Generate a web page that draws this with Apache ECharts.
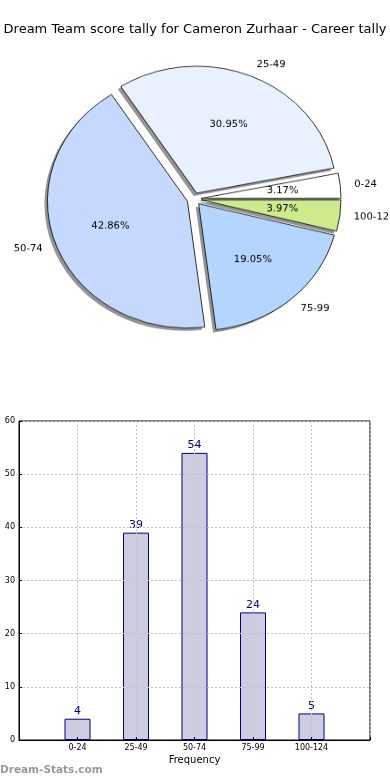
<!DOCTYPE html>
<html>
<head>
<meta charset="utf-8">
<script src="https://cdn.jsdelivr.net/npm/echarts@6/dist/echarts.min.js"></script>
<style>
  html, body { margin: 0; padding: 0; background: #fff; }
  #wrap { position: relative; width: 390px; height: 780px; overflow: hidden; }
  #main { position: absolute; left: 0; top: 0; width: 390px; height: 780px; }
  #pie { position: absolute; left: 0; top: 0; width: 390px; height: 440px;
         transform-origin: 0 0; transform: scaleY(0.907); }
</style>
</head>
<body>
<div id="wrap">
  <div id="main"></div>
  <div id="pie"></div>
</div>
<script>
const titleText = 'Dream Team score tally for Cameron Zurhaar - Career tally';
const categories = ['0-24', '25-49', '50-74', '75-99', '100-124'];
const counts = [4, 39, 54, 24, 5];
const sliceColors = ['#ffffff', '#eaf1fe', '#c5d8fe', '#b4d6fe', '#cdea8c'];
const yTicks = { min: 0, max: 60, interval: 10 };
const xAxisName = 'Frequency';
const watermark = 'Dream-Stats.com';

const FONT = 'DejaVu Sans';

// ---------- bar chart + title ----------
const main = echarts.init(document.getElementById('main'), null, { renderer: 'canvas' });
const xCats = [''].concat(categories, ['']);
const barData = [null].concat(counts, [null]);
main.setOption({
  animation: false,
  backgroundColor: '#fff',
  title: [
    { text: titleText, left: 'center', top: 18,
      textStyle: { fontFamily: FONT, fontSize: 13, fontWeight: 'normal', color: '#000' } },
    { text: watermark, left: 0, top: 765, padding: 0,
      textStyle: { fontFamily: FONT, fontSize: 10.5, fontWeight: 'bold', color: '#999' } }
  ],
  grid: { left: 19, right: 20, top: 421, bottom: 40, show: true,
          borderColor: '#000', borderWidth: 1, backgroundColor: 'transparent' },
  xAxis: {
    type: 'category', data: xCats, boundaryGap: false, z: 3,
    name: xAxisName, nameLocation: 'middle', nameGap: 15,
    nameTextStyle: { fontFamily: FONT, fontSize: 10, color: '#000' },
    axisLine: { show: true, lineStyle: { color: '#000', width: 1 } },
    axisTick: { show: true, inside: true, length: 3, lineStyle: { color: '#000' } },
    axisLabel: { fontFamily: FONT, fontSize: 8, color: '#000', margin: 4, interval: 0 },
    splitLine: { show: true, lineStyle: { color: '#c4c4c4', type: [2, 2], width: 1 } }
  },
  yAxis: {
    type: 'value', min: yTicks.min, max: yTicks.max, interval: yTicks.interval, z: 3,
    axisLine: { show: true, lineStyle: { color: '#000', width: 1 } },
    axisTick: { show: true, inside: true, length: 3, lineStyle: { color: '#000' } },
    axisLabel: { fontFamily: FONT, fontSize: 8, color: '#000', margin: 4 },
    splitLine: { show: true, lineStyle: { color: '#c4c4c4', type: [2, 2], width: 1 } }
  },
  series: [{
    type: 'bar', data: barData, barWidth: 26, z: 2,
    itemStyle: { color: '#cdcde2', borderColor: '#000080', borderWidth: 1 },
    label: { show: true, position: 'top', distance: 2,
             fontFamily: FONT, fontSize: 11, color: '#000080' },
    emphasis: { disabled: true }
  }]
});

// ---------- pie chart (elliptical via vertical scale) ----------
const pie = echarts.init(document.getElementById('pie'), null, { renderer: 'canvas' });
const pieData = categories.map((c, i) => ({
  name: c, value: counts[i], selected: true,
  itemStyle: { color: sliceColors[i] }
}));
const shadowData = categories.map((c, i) => ({ name: c, value: counts[i], selected: true }));
const pctData = categories.map((c, i) => ({ name: c, value: counts[i] }));
const CX = 194, CY = 219.4, R = 140;
const common = { startAngle: 0, clockwise: false, avoidLabelOverlap: false,
                 emphasis: { disabled: true } };
pie.setOption({
  animation: false,
  series: [
    Object.assign({
      type: 'pie', center: [CX - 3, CY + 3], radius: [0, R],
      silent: true, selectedMode: 'multiple', selectedOffset: 7,
      data: shadowData,
      itemStyle: { color: 'rgba(0,0,0,0.42)', borderWidth: 0 },
      label: { show: false }, labelLine: { show: false },
      z: 1
    }, common),
    Object.assign({
      type: 'pie', center: [CX, CY], radius: [0, R],
      selectedMode: 'multiple', selectedOffset: 7,
      data: pieData,
      itemStyle: { borderColor: '#000', borderWidth: 0.8 },
      label: { show: true, position: 'outside', formatter: '{b}',
               fontFamily: FONT, fontSize: 10, color: '#000', distanceToLabelLine: 0 },
      labelLine: { show: false, length: 14, length2: 0 },
      z: 2
    }, common),
    Object.assign({
      type: 'pie', center: [CX, CY], radius: [32, R],
      silent: true, selectedMode: false,
      data: pctData,
      itemStyle: { color: 'rgba(0,0,0,0)', borderWidth: 0 },
      label: { show: true, position: 'inside', formatter: '{d}%',
               fontFamily: FONT, fontSize: 10, color: '#000' },
      labelLine: { show: false },
      z: 3
    }, common)
  ]
});
</script>
</body>
</html>
